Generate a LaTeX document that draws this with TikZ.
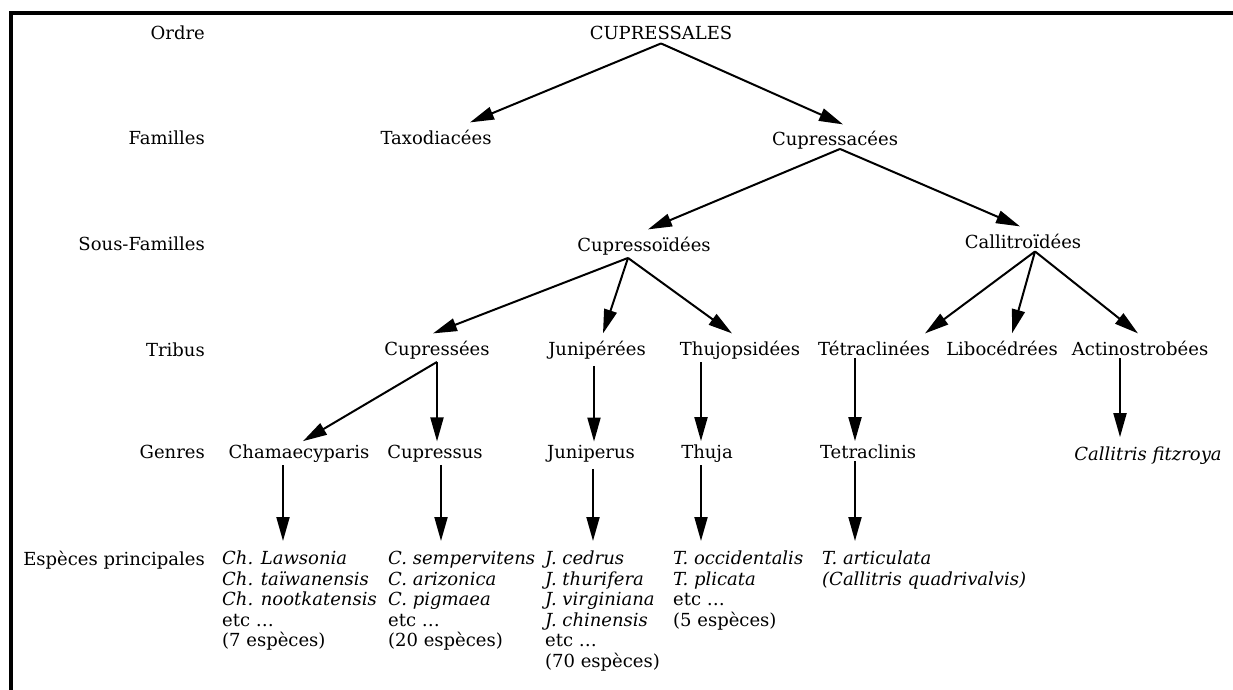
\documentclass[tikz,border=0pt]{standalone}
\usepackage{fontspec}
\setmainfont{DejaVu Serif}
\usetikzlibrary{arrows.meta}
\begin{document}
\begin{tikzpicture}[x=1pt,y=-1pt,>={Triangle[length=24pt,width=13pt]},
  every node/.style={font=\fontsize{18}{20.5}\selectfont, inner sep=3pt},
  fl/.style={->, line width=2pt},
  liste/.style={anchor=north west, align=left, inner sep=0pt}]

 \useasboundingbox (0,0) rectangle (1233,690);
 \draw[line width=4pt](1233,13)--(10.5,13)--(10.5,690);

 \node[anchor=base east] (ordre) at (208,40){Ordre};
 \node[anchor=base east] (familles) at (208,144){Familles};
 \node[anchor=base east] (sousfam) at (208,250){Sous-Familles};
 \node[anchor=base east] (tribus) at (208,356){Tribus};
 \node[anchor=base east] (genres) at (208,458){Genres};
 \node[anchor=base east] (especes) at (208,565){Espèces principales};

 \node[anchor=base] (cupressales) at (661,40){CUPRESSALES};
 \node[anchor=base] (taxodiacees) at (436,144){Taxodiacées};
 \node[anchor=base] (cupressacees) at (835,146){Cupressacées};
 \node[anchor=base] (cupressoidees) at (644,251){Cupressoïdées};
 \node[anchor=base] (callitroidees) at (1023,248){Callitroïdées};
 \node[anchor=base] (cupressees) at (437,355){Cupressées};
 \node[anchor=base] (juniperees) at (597,355){Junipérées};
 \node[anchor=base] (thujopsidees) at (740,355){Thujopsidées};
 \node[anchor=base] (tetraclinees) at (874,355){Tétraclinées};
 \node[anchor=base] (libocedrees) at (1002,355){Libocédrées};
 \node[anchor=base] (actinostrobees) at (1140,355){Actinostrobées};
 \node[anchor=base] (chamaecyparis) at (299,458){Chamaecyparis};
 \node[anchor=base] (cupressus) at (435,458){Cupressus};
 \node[anchor=base] (juniperus) at (591,458){Juniperus};
 \node[anchor=base] (thuja) at (707,458){Thuja};
 \node[anchor=base] (tetraclinis) at (868,458){Tetraclinis};
 \node[anchor=base] (callitris) at (1148,460){\itshape Callitris fitzroya};

 \node[liste] (sp-ch) at (222,551){\itshape Ch. Lawsonia\\ \itshape Ch. taïwanensis\\ \itshape Ch. nootkatensis\\ etc \dots\\ (7 espèces)};
 \node[liste] (sp-c) at (388,551){\itshape C. sempervitens\\ \itshape C. arizonica\\ \itshape C. pigmaea\\ etc \dots\\ (20 espèces)};
 \node[liste] (sp-j) at (545,551){\itshape J. cedrus\\ \itshape J. thurifera\\ \itshape J. virginiana\\ \itshape J. chinensis\\ etc \dots\\ (70 espèces)};
 \node[liste] (sp-t) at (673,551){\itshape T. occidentalis\\ \itshape T. plicata\\ etc \dots\\ (5 espèces)};
 \node[liste] (sp-tetra) at (822,551){\itshape T. articulata\\ \itshape (Callitris quadrivalvis)};

 \draw[fl](cupressales.south)--([xshift=34,yshift=4]taxodiacees.north);
 \draw[fl](cupressales.south)--([xshift=8,yshift=4]cupressacees.north);
 \draw[fl]([xshift=5,yshift=4]cupressacees.south)--([xshift=4,yshift=4]cupressoidees.north);
 \draw[fl]([xshift=5,yshift=4]cupressacees.south)--([xshift=-3,yshift=4]callitroidees.north);
 \draw[fl]([xshift=-16]cupressoidees.south)--([xshift=-4,yshift=4]cupressees.north);
 \draw[fl]([xshift=-16]cupressoidees.south)--([xshift=6,yshift=4]juniperees.north);
 \draw[fl]([xshift=-16]cupressoidees.south)--([xshift=-8,yshift=4]thujopsidees.north);
 \draw[fl]([xshift=12]callitroidees.south)--([xshift=51,yshift=4]tetraclinees.north);
 \draw[fl]([xshift=12]callitroidees.south)--([xshift=10,yshift=4]libocedrees.north);
 \draw[fl]([xshift=12]callitroidees.south)--([xshift=-2,yshift=4]actinostrobees.north);
 \draw[fl](cupressees.south)--([xshift=4]chamaecyparis.north);
 \draw[fl](cupressees.south)--(cupressees.south |- cupressus.north);
 \draw[fl]([xshift=-3,yshift=-4]juniperees.south)--([xshift=-3]juniperees.south |- juniperus.north);
 \draw[fl]([xshift=-39]thujopsidees.south)--([xshift=-39]thujopsidees.south |- thuja.north);
 \draw[fl]([xshift=-19]tetraclinees.south)--([xshift=-19]tetraclinees.south |- tetraclinis.north);
 \draw[fl]([xshift=-20]actinostrobees.south)--([xshift=-20,yshift=6]actinostrobees.south |- callitris.north);
 \draw[fl]([xshift=-16]chamaecyparis.south)--([xshift=-16,yshift=10]chamaecyparis.south |- sp-ch.north);
 \draw[fl]([xshift=6]cupressus.south)--([xshift=6,yshift=10]cupressus.south |- sp-c.north);
 \draw[fl]([xshift=2,yshift=-4]juniperus.south)--([xshift=2,yshift=10]juniperus.south |- sp-j.north);
 \draw[fl]([xshift=-6]thuja.south)--([xshift=-6,yshift=10]thuja.south |- sp-t.north);
 \draw[fl]([xshift=-13]tetraclinis.south)--([xshift=-13,yshift=10]tetraclinis.south |- sp-tetra.north);

\end{tikzpicture}
\end{document}
